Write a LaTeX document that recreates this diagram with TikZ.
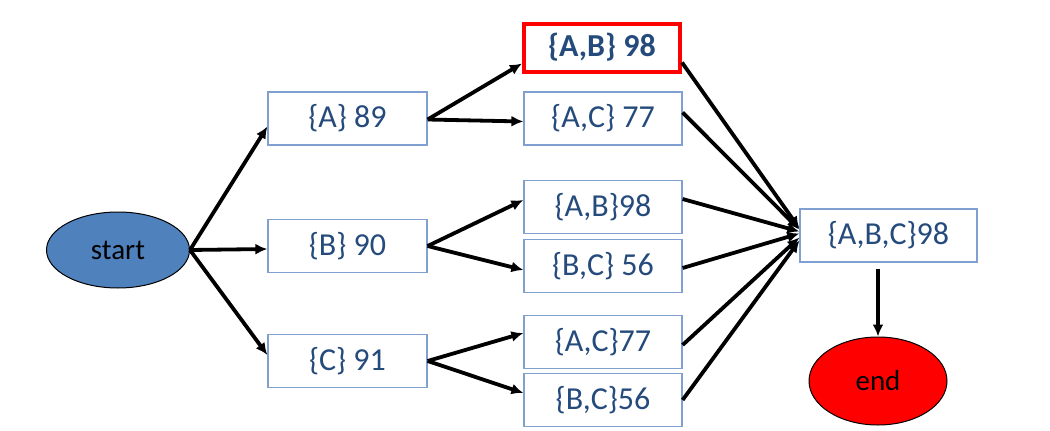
\documentclass[tikz,border=0pt]{standalone}
\usepackage{fontspec}
\setmainfont{Carlito}
\usetikzlibrary{shapes.geometric,arrows.meta}
\definecolor{boxline}{HTML}{7FA0D0}
\definecolor{boxtext}{HTML}{254A7C}
\definecolor{startfill}{HTML}{4F81BD}
\tikzset{
  setbox/.style={draw=boxline, line width=1.2pt, fill=white, minimum width=159pt, minimum height=53pt, inner sep=0pt, text=boxtext, font=\fontsize{32}{38}\selectfont},
  bestbox/.style={setbox, draw=red, line width=4pt, font=\fontsize{32}{38}\selectfont\bfseries, minimum width=156pt, minimum height=48pt},
  termnode/.style={ellipse, draw=black, line width=1pt, inner sep=0pt, font=\fontsize{29}{34}\selectfont, text=black},
  conn/.style={line width=3.8pt, -{Latex[length=12pt,width=11pt]}, shorten >=0pt}
}
\begin{document}
\begin{tikzpicture}[x=1pt,y=-1pt]
\useasboundingbox (0,0) rectangle (1050,431);
\node[termnode, fill=startfill, minimum width=143pt, minimum height=76pt] (start) at (118,250) {start};
\node[setbox] (a) at (347.5,118.5) {\{A\} 89};
\node[setbox] (b) at (347.5,246) {\{B\} 90};
\node[setbox] (c) at (347.5,361) {\{C\} 91};
\node[bestbox] (ab1) at (602,47.5) {\{A,B\} 98};
\node[setbox, minimum width=158pt] (ac1) at (603,118.5) {\{A,C\} 77};
\node[setbox, minimum width=158pt] (ab2) at (603,207) {\{A,B\}98};
\node[setbox, minimum width=158pt] (bc1) at (603,266) {\{B,C\} 56};
\node[setbox, minimum width=158pt] (ac2) at (603,342) {\{A,C\}77};
\node[setbox, minimum width=158pt] (bc2) at (603,400) {\{B,C\}56};
\node[setbox, minimum width=177pt] (abc) at (888.5,235.5) {\{A,B,C\}98};
\node[termnode, fill=red, minimum width=138pt, minimum height=88pt] (end) at (878,381) {end};
\coordinate (abcbot) at ([yshift=-6pt]end.north |- abc.south);

\draw[conn] (start.east) -- ([yshift=-8pt]a.west);
\draw[conn] (start.east) -- ([yshift=-3pt]b.west);
\draw[conn] (start.east) -- ([yshift=6pt]c.west);

\draw[conn] ([yshift=-1pt]a.east) -- ([yshift=-3pt]ac1.west);
\draw[conn] ([yshift=-1pt]a.east) -- ([yshift=-16pt]ab1.west);
\draw[conn] (b.east) -- ([yshift=7pt]ab2.west);
\draw[conn] (b.east) -- ([yshift=-4pt]bc1.west);
\draw[conn] (c.east) -- ([yshift=9pt]ac2.west);
\draw[conn] (c.east) -- ([yshift=7pt]bc2.west);

\draw[conn] ([yshift=-15pt]ab1.east) -- ([yshift=7pt]abc.west);
\draw[conn] ([yshift=6pt]ac1.east) -- ([yshift=6pt]abc.west);
\draw[conn] ([yshift=8pt]ab2.east) -- ([yshift=4pt]abc.west);
\draw[conn] ([yshift=-2pt]bc1.east) -- ([yshift=2pt]abc.west);
\draw[conn] ([yshift=-3pt]ac2.east) -- ([yshift=-2pt]abc.west);
\draw[conn] ([yshift=0pt]bc2.east) -- ([yshift=-5pt]abc.west);

\draw[conn] (abcbot) -- (end.north);
\end{tikzpicture}
\end{document}
